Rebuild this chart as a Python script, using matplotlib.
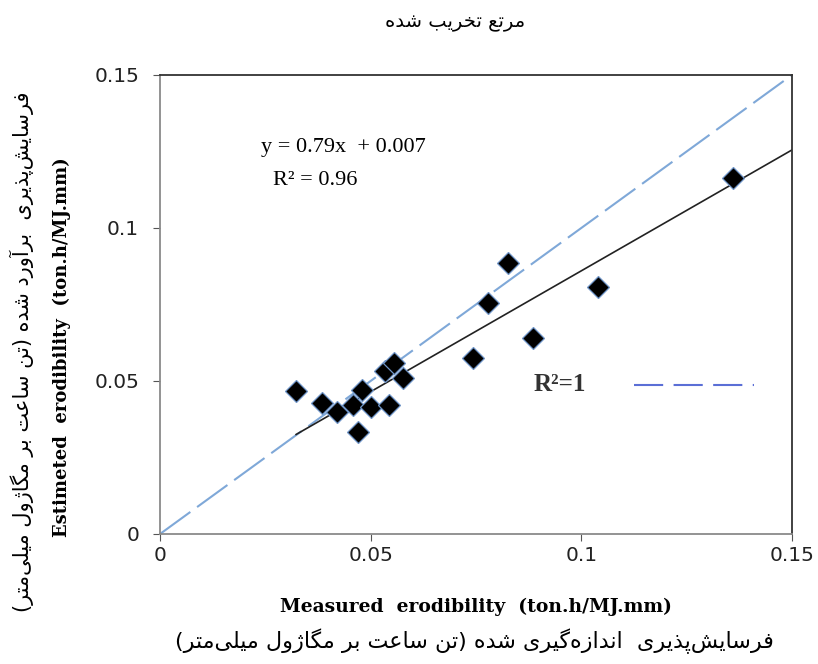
import matplotlib.pyplot as plt
import numpy as np

# measured vs estimated erodibility (ton.h/MJ.mm)
measured = [0.0323, 0.0385, 0.0420, 0.0458, 0.0470, 0.0479, 0.0501, 0.0544, 0.0534,
            0.0555, 0.0577, 0.0743, 0.0779, 0.0826, 0.0886, 0.1040, 0.1360]
estimated = [0.0467, 0.0428, 0.0399, 0.0422, 0.0333, 0.0471, 0.0415, 0.0422, 0.0533,
             0.0560, 0.0510, 0.0575, 0.0755, 0.0886, 0.0641, 0.0807, 0.1163]
slope, intercept = 0.79, 0.007
ticks = [0, 0.05, 0.1, 0.15]
tick_labels = ['0', '0.05', '0.1', '0.15']

title_fa = 'مرتع تخریب شده'
ylabel_fa = 'فرسایش\u200cپذیری  برآورد شده (تن ساعت بر مگاژول میلی\u200cمتر)'
xlabel_fa = 'فرسایش\u200cپذیری  اندازه\u200cگیری شده (تن ساعت بر مگاژول میلی\u200cمتر)'
ylabel_en = 'Estimeted  erodibility  (ton.h/MJ.mm)'
xlabel_en = 'Measured  erodibility  (ton.h/MJ.mm)'

# --- small Persian shaper (matplotlib has no text shaping) ---
# letter: (isolated, final, initial, medial); right-joining letters have only 2 forms
FORMS = {
    'ا': (0xFE8D, 0xFE8E), 'آ': (0xFE81, 0xFE82),
    'ب': (0xFE8F, 0xFE90, 0xFE91, 0xFE92), 'پ': (0xFB56, 0xFB57, 0xFB58, 0xFB59),
    'ت': (0xFE95, 0xFE96, 0xFE97, 0xFE98), 'خ': (0xFEA5, 0xFEA6, 0xFEA7, 0xFEA8),
    'د': (0xFEA9, 0xFEAA), 'ذ': (0xFEAB, 0xFEAC), 'ر': (0xFEAD, 0xFEAE),
    'ز': (0xFEAF, 0xFEB0), 'ژ': (0xFB8A, 0xFB8B),
    'س': (0xFEB1, 0xFEB2, 0xFEB3, 0xFEB4), 'ش': (0xFEB5, 0xFEB6, 0xFEB7, 0xFEB8),
    'ع': (0xFEC9, 0xFECA, 0xFECB, 0xFECC), 'ف': (0xFED1, 0xFED2, 0xFED3, 0xFED4),
    'گ': (0xFB92, 0xFB93, 0xFB94, 0xFB95), 'ل': (0xFEDD, 0xFEDE, 0xFEDF, 0xFEE0),
    'م': (0xFEE1, 0xFEE2, 0xFEE3, 0xFEE4), 'ن': (0xFEE5, 0xFEE6, 0xFEE7, 0xFEE8),
    'ه': (0xFEE9, 0xFEEA, 0xFEEB, 0xFEEC), 'و': (0xFEED, 0xFEEE),
    'ی': (0xFBFC, 0xFBFD, 0xFBFE, 0xFBFF),
}


def shape_fa(s):
    out = []
    for i, ch in enumerate(s):
        if ch == '\u200c':
            continue
        if ch not in FORMS:
            out.append({'(': ')', ')': '('}.get(ch, ch))
            continue
        prev = s[i - 1] if i > 0 else ''
        nxt = s[i + 1] if i + 1 < len(s) else ''
        jp = prev in FORMS and len(FORMS[prev]) == 4
        jn = len(FORMS[ch]) == 4 and nxt in FORMS
        f = FORMS[ch]
        if jp and jn:
            code = f[3]
        elif jp:
            code = f[1]
        elif jn:
            code = f[2]
        else:
            code = f[0]
        out.append(chr(code))
    return ''.join(out[::-1])


fa_font = ['DejaVu Sans']
serif = 'Liberation Serif'
bold_serif = 'DejaVu Serif'

fig = plt.figure(figsize=(8.18, 6.64), dpi=100)
ax = fig.add_axes([0.1956, 0.1958, 0.7726, 0.6913])

x = np.array(measured)
y = np.array(estimated)

# 1:1 line
ax.plot([0, 0.15], [0, 0.15], color='#7fa8d8', lw=1.5, dashes=(18, 4), zorder=1)
# Excel-style linear trendline, forecast forward to 0.15
xt = np.array([x.min(), 0.15])
ax.plot(xt, slope * xt + intercept, color='#222222', lw=1.2, zorder=2)
ax.plot(x, y, linestyle='none', marker='D', markersize=11, color='black',
        markeredgecolor='#6f95c8', markeredgewidth=0.9, zorder=3)

ax.set_xlim(0, 0.15)
ax.set_ylim(0, 0.15)
ax.set_xticks(ticks)
ax.set_xticklabels(tick_labels)
ax.set_yticks(ticks)
ax.set_yticklabels(tick_labels)
ax.tick_params(axis='both', labelsize=14.5, length=5, color='#555555',
               labelcolor='#222222')
ax.tick_params(axis='x', pad=4)
ax.tick_params(axis='y', pad=10)
for side in ['left', 'bottom']:
    ax.spines[side].set_color('#8a8a8a')
for side in ['top', 'right']:
    ax.spines[side].set_color('#333333')
for sp in ax.spines.values():
    sp.set_linewidth(1.3)

ax.text(0.29, 0.843, 'y = 0.79x  + 0.007', transform=ax.transAxes, ha='center',
        va='center', fontsize=16, family=serif)
ax.text(0.245, 0.771, 'R² = 0.96', transform=ax.transAxes, ha='center',
        va='center', fontsize=16, family=serif)
ax.text(0.633, 0.325, 'R²=1', transform=ax.transAxes, ha='center', va='center',
        fontsize=18, family=serif, fontweight='bold', color='#333333')
ax.plot([0.75, 0.94], [0.325, 0.325], transform=ax.transAxes, color='#5b6fd6',
        lw=1.5, dashes=(14, 5))

fig.text(0.556, 0.966, shape_fa(title_fa), ha='center', va='center', fontsize=14,
         family=fa_font)
fig.text(0.582, 0.086, xlabel_en, ha='center', va='center', fontsize=13.5,
         family=bold_serif, fontweight='bold')
fig.text(0.58, 0.035, shape_fa(xlabel_fa), ha='center', va='center', fontsize=16,
         family=fa_font)
fig.text(0.076, 0.477, ylabel_en, ha='center', va='center', fontsize=13,
         family=bold_serif, fontweight='bold', rotation=90)
fig.text(0.027, 0.47, shape_fa(ylabel_fa), ha='center', va='center', fontsize=15,
         family=fa_font, rotation=90)

fig.savefig('out.png', dpi=100)
